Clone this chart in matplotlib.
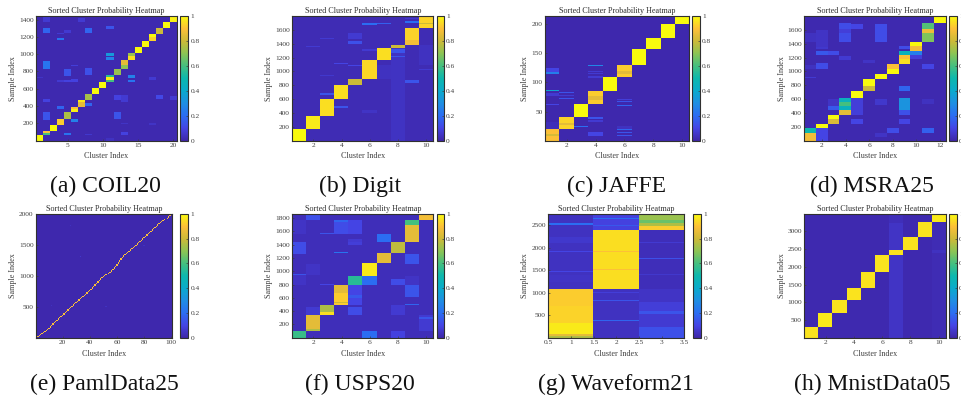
import numpy as np
import matplotlib
matplotlib.use("Agg")
import matplotlib.pyplot as plt
from matplotlib.colors import LinearSegmentedColormap

plt.rcParams['font.family'] = ['Liberation Serif', 'DejaVu Serif']

W, H = 962, 401
TITLE = "Sorted Cluster Probability Heatmap"
XLABEL = "Cluster Index"
YLABEL = "Sample Index"

PARULA = [(.2422,.1504,.6603),(.27,.27,.90),(.17,.43,.95),(.12,.56,.89),
          (.04,.67,.80),(.05,.72,.68),(.27,.75,.50),(.55,.77,.33),
          (.80,.73,.22),(.99,.75,.22),(.9763,.9831,.0538)]
cmap = LinearSegmentedColormap.from_list("parula", PARULA)

# ---- (a) COIL20: (cluster, first sample, last sample, probability)
COIL_N, COIL_K, COIL_BASE = 1440, 20, 0.015
COIL_DIAG = [(1,0,73,1),(2,73,88,.6),(2,88,116,.9),(3,116,190,1),(4,190,248,.92),(5,248,337,.75),
             (6,337,370,.98),(6,370,395,.9),(7,395,445,.85),(7,445,472,.97),(8,472,542,.74),(9,542,615,1),
             (10,615,685,1),(11,685,700,.6),(11,700,735,.98),(11,735,762,.55),(12,762,832,.72),
             (13,832,878,.7),(13,878,933,.85),(14,933,975,.95),(14,975,1018,.72),(15,1018,1088,1),
             (16,1088,1157,1),(17,1157,1200,.93),(17,1200,1235,1),(18,1235,1297,.8),(19,1297,1374,1),(20,1374,1440,.98)]
COIL_OFF = [(2,1370,1430,.07),(2,1246,1304,.18),(2,828,917,.22),(2,240,337,.14),(2,453,480,.09),
            (4,1161,1188,.22),(4,1230,1245,.07),(4,364,402,.18),(4,680,704,.07),
            (5,750,828,.14),(5,66,93,.22),(5,1246,1277,.07),(5,680,704,.09),
            (6,860,878,.08),(6,217,248,.26),(6,680,712,.09),(7,1370,1420,.07),
            (8,1246,1304,.18),(8,762,840,.13),(8,402,433,.18),(8,66,85,.06),
            (11,975,1015,.34),(11,936,968,.26),(11,1290,1330,.14),(11,5,40,.04),
            (12,259,337,.14),(12,472,530,.09),(13,453,530,.07),(13,66,104,.09),(13,200,210,.05),
            (14,724,763,.26),(14,685,704,.22),(18,484,530,.11),(20,472,519,.07),
            (17,704,743,.07),(1,730,740,.05),(17,190,205,.05)]
COIL_TICKS = [5,10,15,20]
COIL_YTICKS = [200,400,600,800,1000,1200,1400]

# ---- (b) Digit
DIGIT_N, DIGIT_K, DIGIT_BASE = 1800, 10, 0.02
DIGIT_DIAG = [(1,0,179,1),(2,179,358,.97),(3,358,601,.95),(4,601,809,.95),(5,809,891,.8),(6,891,1172,.94),
              (7,1172,1342,.95),(8,1342,1376,.8),(9,1376,1623,.93),(10,1623,1800,.93),(10,1680,1700,.8),(9,1376,1450,.88)]
DIGIT_OFF = [(8,0,1342,.045),(5,1400,1440,.13),(5,1470,1560,.07),(9,833,881,.14),(9,1695,1730,.2),(9,1754,1778,.06),
             (6,1676,1705,.2),(7,1690,1705,.17),(3,664,688,.14),(4,480,504,.14),(8,1270,1318,.14),(8,1206,1230,.14),
             (2,1350,1365,.07),(3,1465,1480,.07),(4,1115,1130,.1),(5,1075,1090,.1),(10,1020,1040,.07),(10,1100,1376,.04),
             (7,890,1100,.04),(6,410,440,.05),(6,1300,1320,.07),(3,930,950,.06)]
DIGIT_TICKS = [2,4,6,8,10]
DIGIT_YTICKS = [200,400,600,800,1000,1200,1400,1600]

# ---- (c) JAFFE
JAFFE_N, JAFFE_K, JAFFE_BASE = 213, 10, 0.01
JAFFE_DIAG = [(1,0,21,.9),(1,8,12,.82),(2,21,41,.93),(2,27,31,.85),(3,41,63,1),(4,63,86,.92),(4,70,76,.85),(5,86,109,1),
              (6,109,130,.92),(6,115,120,.85),(7,130,157,1),(8,157,176,1),(9,176,199,1),(10,199,213,1)]
JAFFE_OFF = [(1,114,117,.25),(1,118,124,.1),(1,86,87,.38),(1,76,82,.07),(1,62,63,.1),(1,21,32,.03),
             (2,114,115,.07),(2,72,74,.14),(2,77,79,.07),(2,82,83,.14),(3,24,25,.2),
             (4,127,129,.28),(4,107,111,.07),(4,114,116,.07),(4,118,120,.07),(4,33,35,.07),(4,38,41,.14),(4,8,15,.1),
             (6,85,86,.07),(6,60,62,.18),(6,66,68,.14),(6,70,72,.08),(6,8,10,.14),(6,13,15,.14),(6,18,21,.18),(6,21,26,.04)]
JAFFE_TICKS = [2,4,6,8,10]
JAFFE_YTICKS = [50,100,150,200]

# ---- (d) MSRA25
MSRA_N, MSRA_K, MSRA_BASE = 1800, 12, 0.015
MSRA_DIAG = [(1,0,116,.88),(1,116,184,.5),(2,184,252,1),(3,252,310,.83),(3,310,373,1),(4,373,440,.85),(4,440,500,.45),
             (4,500,565,.6),(4,565,614,.45),(5,614,727,1),(6,727,785,.8),(6,785,891,1),(7,891,959,1),
             (8,959,1030,1),(8,1030,1114,.9),(9,1114,1180,.95),(9,1180,1245,.9),(9,1245,1303,.45),
             (10,1303,1370,.88),(10,1370,1429,1),(11,1429,1555,.68),(11,1555,1615,.87),(11,1615,1696,.62),(12,1696,1800,1)]
MSRA_OFF = [(2,0,184,.1),(2,1030,1120,.12),(2,1245,1303,.15),(2,1320,1370,.06),(3,1245,1303,.12),(3,440,500,.15),(3,500,610,.05),
            (4,1430,1555,.12),(4,1555,1615,.08),(4,1615,1696,.12),(5,373,614,.08),(5,252,310,.1),(5,1615,1690,.1),
            (7,1430,1690,.12),(7,520,600,.06),(7,60,110,.05),(8,120,184,.12),
            (9,720,785,.18),(9,440,614,.32),(9,373,440,.13),(9,252,310,.1),(9,1320,1370,.12),
            (10,1245,1303,.25),(10,1180,1245,.08),(11,1030,1114,.1),(11,120,184,.17),(11,540,600,.04),
            (1,1420,1560,.04),(2,1360,1600,.05),(4,1160,1220,.07),(6,1120,1170,.05),(1,910,925,.07),(1,1040,1100,.04)]
MSRA_TICKS = [2,4,6,8,10,12]
MSRA_YTICKS = [200,400,600,800,1000,1200,1400,1600]

# ---- (e) PamlData25: samples per cluster along the diagonal
PALM_N, PALM_K, PALM_BASE = 2000, 100, 0.01
PALM_SIZES = [15,15,16,16,16,16,16,18,20,20, 22,22,22,22,20,20,20,20,20,20,
              22,22,22,20,20,20,20,20,20,20, 20,20,20,20,18,18,18,20,20,20,
              20,22,24,24,24,24,24,24,22,14, 14,14,14,14,16,20,22,26,28,28,
              30,30,30,30,30,16,16,16,18,18, 18,20,20,20,20,20,20,22,22,22,
              20,20,20,20,20,20,20,20,20,20, 20,20,18,16,12,8,8,28,24,14]
PALM_VALUE = 0.9
PALM_OFF = [(33,1300,1320,.06),(80,1480,1495,.04),(52,500,515,.04),(26,1810,1825,.04),(12,520,535,.04)]
PALM_TICKS = [20,40,60,80,100]
PALM_YTICKS = [500,1000,1500,2000]

# ---- (f) USPS20
USPS_N, USPS_K, USPS_BASE = 1860, 10, 0.03
USPS_DIAG = [(1,0,105,.58),(2,105,339,.85),(2,105,135,.75),(3,339,489,.75),(3,339,385,.95),(4,489,788,.92),(4,520,540,.8),
             (4,680,788,.85),(5,788,937,.55),(6,937,1122,.97),(7,1122,1276,.85),(8,1276,1436,.78),
             (9,1436,1770,.85),(9,1700,1770,.6),(10,1770,1860,.88)]
USPS_OFF = [(6,0,105,.2),(8,0,105,.09),(10,105,340,.07),(10,290,320,.14),(2,340,460,.07),(5,340,465,.12),
            (5,500,790,.1),(5,600,640,.15),(8,340,490,.07),(9,620,790,.14),(9,500,515,.18),(6,800,937,.2),
            (8,790,880,.12),(9,790,937,.05),(1,937,960,.14),(1,1260,1436,.12),(9,1110,1260,.14),(5,1436,1480,.07),
            (7,1436,1560,.2),(4,1560,1770,.12),(4,1740,1775,.18),(5,1560,1770,.1),(3,1560,1575,.14),(4,1272,1285,.22),
            (2,1770,1860,.13),(2,950,1110,.05),(1,1560,1770,.05),(1,800,950,.05),(5,1400,1436,.08),(3,790,805,.1)]
USPS_TICKS = [2,4,6,8,10]
USPS_YTICKS = [200,400,600,800,1000,1200,1400,1600,1800]

# ---- (g) Waveform21
WAVE_N, WAVE_K, WAVE_BASE = 2750, 3, 0.04
WAVE_DIAG = [(1,0,40,.75),(1,40,90,.85),(1,90,330,.97),(1,330,700,.93),(1,700,1093,.92),(1,810,825,.78),(1,395,410,.8),
             (2,1093,2401,.95),(2,1500,1520,.9),(2,1900,1920,.9),
             (3,2401,2480,.92),(3,2480,2560,.75),(3,2560,2620,.65),(3,2620,2680,.72),(3,2680,2750,.72)]
WAVE_OFF = [(1,2401,2750,.04),(1,2640,2650,.14),(1,2500,2550,.2),(1,1460,1480,.1),(1,1905,1925,.1),
            (1,2100,2250,.06),(1,1250,1400,.05),(2,2401,2750,.09),(2,2640,2660,.2),(2,2490,2510,.15),
            (2,0,1093,.04),(2,830,850,.14),(2,385,405,.18),(2,100,120,.1),(2,1000,1020,.08),
            (3,0,250,.13),(3,250,530,.07),(3,530,600,.14),(3,600,800,.08),(3,800,1093,.05),
            (3,1093,2401,.03),(3,1750,1770,.13),(3,2100,2120,.07),(3,1400,1420,.06)]
WAVE_TICKS = [0.5,1,1.5,2,2.5,3,3.5]
WAVE_TICK_LABELS = ["0.5","1","1.5","2","2.5","3","3.5"]
WAVE_YTICKS = [500,1000,1500,2000,2500]

# ---- (h) MnistData05
MNIST_N, MNIST_K, MNIST_BASE = 3490, 10, 0.015
MNIST_DIAG = [(1,0,310,.96),(2,310,710,.97),(3,710,1077,.96),(4,1077,1414,.96),(5,1414,1854,.96),(6,1854,2341,.96),
              (7,2341,2463,.96),(8,2463,2837,.96),(9,2837,3258,.96),(10,3258,3490,.97)]
MNIST_OFF = [(7,0,2341,.05),(7,2463,3250,.05),(7,3250,3490,.03),(10,0,3258,.022),(10,2400,2470,.04)]
MNIST_TICKS = [2,4,6,8,10]
MNIST_YTICKS = [500,1000,1500,2000,2500,3000]

CAPTIONS = ["(a) COIL20","(b) Digit","(c) JAFFE","(d) MSRA25",
            "(e) PamlData25","(f) USPS20","(g) Waveform21","(h) MnistData05"]
CBAR_TICKS = [0,0.2,0.4,0.6,0.8,1]
CBAR_LABELS = ["0","0.2","0.4","0.6","0.8","1"]

palm_edges = np.concatenate([[0], np.cumsum(PALM_SIZES)])
PALM_DIAG = [(i+1, int(palm_edges[i]), int(palm_edges[i+1]), PALM_VALUE) for i in range(PALM_K)]

PANELS = [
    (COIL_N,COIL_K,COIL_BASE,COIL_OFF,COIL_DIAG,COIL_TICKS,None,COIL_YTICKS),
    (DIGIT_N,DIGIT_K,DIGIT_BASE,DIGIT_OFF,DIGIT_DIAG,DIGIT_TICKS,None,DIGIT_YTICKS),
    (JAFFE_N,JAFFE_K,JAFFE_BASE,JAFFE_OFF,JAFFE_DIAG,JAFFE_TICKS,None,JAFFE_YTICKS),
    (MSRA_N,MSRA_K,MSRA_BASE,MSRA_OFF,MSRA_DIAG,MSRA_TICKS,None,MSRA_YTICKS),
    (PALM_N,PALM_K,PALM_BASE,PALM_OFF,PALM_DIAG,PALM_TICKS,None,PALM_YTICKS),
    (USPS_N,USPS_K,USPS_BASE,USPS_OFF,USPS_DIAG,USPS_TICKS,None,USPS_YTICKS),
    (WAVE_N,WAVE_K,WAVE_BASE,WAVE_OFF,WAVE_DIAG,WAVE_TICKS,WAVE_TICK_LABELS,WAVE_YTICKS),
    (MNIST_N,MNIST_K,MNIST_BASE,MNIST_OFF,MNIST_DIAG,MNIST_TICKS,None,MNIST_YTICKS),
]

# layout in pixels: axes x0,x1, colourbar x0,x1, ylabel x, caption x
LAYOUT = [(36,176.7,180.5,188.5,12.7,105),(292.3,433.3,436.7,444,269,360.5),
          (545,689.3,692.3,700,525,616.5),(804.3,945.7,948.7,957,781.7,872),
          (36,172,180.5,188.3,12.7,104),(292.3,433.3,436.7,444,269,360),
          (548.3,684.3,692.7,701.3,525,616),(804.3,945.7,948.7,957,781.7,872)]
ROWS = [(16,140.6,156,186),(214,337.7,354,384)]

TXT = '#404040'
EDGE = '#303030'

def build(n, k, base, off, diag):
    m = np.full((n, k), float(base))
    for c, a, b, v in list(off) + list(diag):
        m[a:b, c-1] = v
    return m

fig = plt.figure(figsize=(W/100, H/100), dpi=100, facecolor='white')

def fx(x): return x / W
def fy(y): return 1 - y / H

for i, (panel, lay) in enumerate(zip(PANELS, LAYOUT)):
    n, k, base, off, diag, xt, xtl, yt = panel
    x0, x1, c0, c1, yl, capx = lay
    top, bot, xl, cap = ROWS[i // 4]
    ax = fig.add_axes([fx(x0), fy(bot), (x1-x0)/W, (bot-top)/H])
    im = ax.imshow(build(n, k, base, off, diag), origin='lower', aspect='auto', cmap=cmap, vmin=0, vmax=1,
                   extent=[0.5, k+0.5, 0.5, n+0.5], interpolation='nearest')
    ax.set_xticks(xt)
    if xtl: ax.set_xticklabels(xtl)
    ax.set_yticks(yt)
    ax.tick_params(direction='in', length=1.2, width=0.5, labelsize=5.3, pad=1.8,
                   colors=TXT, top=False, right=False)
    ax.set_title(TITLE, fontsize=5.9, color='#303030', pad=2.2)
    ax.set_xlabel(XLABEL, fontsize=5.9, color=TXT)
    ax.set_ylabel(YLABEL, fontsize=5.9, color=TXT)
    ax.xaxis.set_label_coords(fx((x0+x1)/2), fy(xl), transform=fig.transFigure)
    ax.yaxis.set_label_coords(fx(yl), fy((top+bot)/2), transform=fig.transFigure)
    ax.xaxis.label.set_va('center')
    ax.yaxis.label.set_va('center')
    for s in ax.spines.values():
        s.set_color(EDGE); s.set_linewidth(0.8)
    cax = fig.add_axes([fx(c0), fy(bot), (c1-c0)/W, (bot-top)/H])
    cb = fig.colorbar(im, cax=cax)
    cb.set_ticks(CBAR_TICKS, labels=CBAR_LABELS)
    cax.tick_params(direction='in', length=1.2, width=0.5, labelsize=5.3, pad=1.5, colors=TXT)
    cb.outline.set_edgecolor(EDGE); cb.outline.set_linewidth(0.8)
    fig.text(fx(capx), fy(cap), CAPTIONS[i], fontsize=17, color='#111111', ha='center', va='center')

fig.savefig("out.png", dpi=100)
